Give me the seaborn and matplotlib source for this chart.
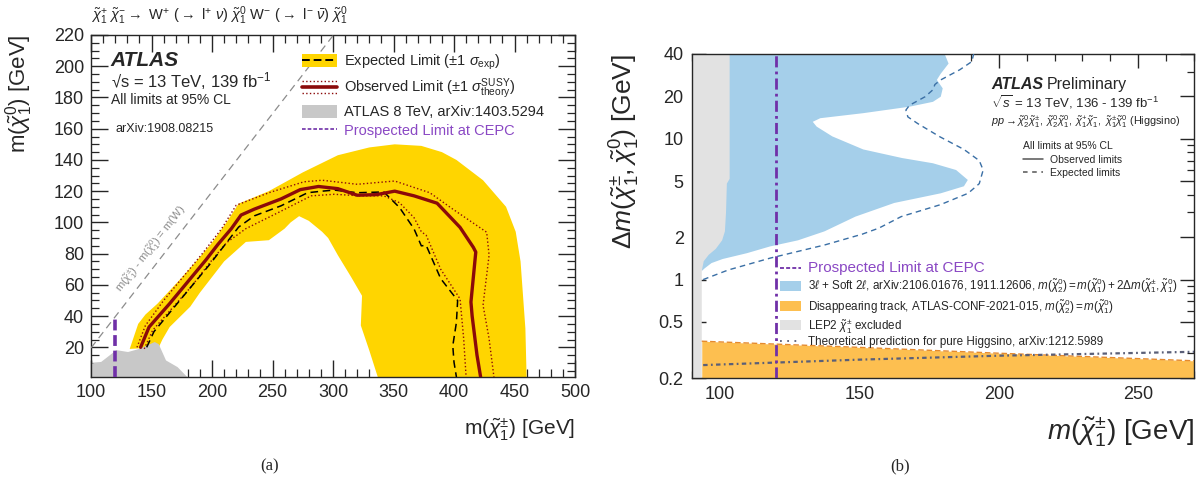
import matplotlib
matplotlib.use("Agg")
import numpy as np
import pandas as pd
import seaborn as sns
import matplotlib.pyplot as plt
from matplotlib.patches import Patch
from matplotlib.lines import Line2D
from matplotlib.legend_handler import HandlerBase, HandlerTuple
from matplotlib.ticker import MultipleLocator, FixedLocator, FixedFormatter, NullFormatter

# ---------------- data: panel (a) ----------------
band_outer_x = [132, 139, 145, 155, 173, 188, 200, 212, 222, 247, 275, 304, 330, 351, 373, 390, 402, 424, 443, 451, 455, 459, 460]
band_outer_y = [19, 35, 41, 48, 63, 76, 87, 100, 112, 120, 132, 143, 148, 150, 149, 145, 140, 127, 110, 94, 75, 32, 1]
band_inner_x = [337, 330, 323, 324, 315, 304, 296, 291, 280, 272, 265, 260, 247, 228, 210, 190, 182, 165, 159, 156]
band_inner_y = [1, 18, 34, 53, 65, 79, 90, 94, 101, 104, 100, 96, 88.6, 87.5, 75, 55, 46, 33, 25, 20]

atlas8_x = [100, 100, 108.5, 121, 130.6, 140, 152.7, 156, 162, 171.6, 179.5]
atlas8_y = [1, 9.6, 10.7, 18.2, 17, 19, 23.4, 22, 11.6, 7.3, 1]

obs_x = [141, 148, 165, 180, 195, 205, 216, 224, 235, 257, 273, 288, 304, 320, 336, 351, 367, 386, 405, 416, 418, 414, 415, 419, 422]
obs_y = [20, 33, 48, 62, 76, 86, 96, 104.7, 108.5, 115, 121, 123, 121.6, 117.4, 117.8, 120, 117, 112.3, 96.8, 84, 81, 49, 40, 15, 1]

obs_up_x = [138, 145, 160, 176, 192, 208, 220, 247, 276, 291, 320, 351, 380, 399, 427, 429, 424, 429, 433]
obs_up_y = [20, 34, 50, 65, 80, 96, 111, 119, 126, 127, 124.4, 126.5, 119, 108.5, 93.7, 79, 47, 25.5, 1]
obs_dn_x = [144, 151, 167, 183, 198, 212, 228, 254, 282, 301, 323, 342, 355, 367, 373, 377, 389, 405, 408, 410]
obs_dn_y = [19, 31, 45, 59, 74, 87, 96, 106, 117, 118, 117, 117, 112.6, 103, 94, 91.8, 70, 51, 25.5, 1]

exp_x = [146, 152, 168, 183, 198, 210, 222, 235, 257, 279, 291, 301, 320, 342, 355, 367, 373, 377, 389, 403, 402, 399, 400, 402]
exp_y = [20, 30, 45, 59, 73, 85, 97, 104.2, 110.6, 119, 120, 120.7, 119, 119.5, 109.5, 95.8, 85, 85.3, 64, 50, 36, 21, 10.5, 1]

m_w = 80.4
w_line_x = np.array([100.0, 310.0])
cepc_mass = 120
cepc_a_range = [1, 40]

# ---------------- data: panel (b) ----------------
lep_x = [90, 103.5, 103.5, 102.5, 102.2, 101.8, 100.8, 98.5, 96, 94.2, 93.5, 93.5, 90]
lep_y = [40, 40, 5.2, 4.8, 3.0, 2.2, 1.9, 1.65, 1.5, 1.35, 1.15, 0.2, 0.2]

blue_x = [93.5, 94.5, 97, 101, 109.7, 118, 128, 137.5, 148.6, 162.5, 179.2, 187.5, 188.9, 184.7, 176.4, 165.3,
          151.4, 140.3, 134.7, 133.3, 136, 151.4, 168, 176.4, 179.2, 179.9, 177.8, 179.2, 182, 180.6, 93.5]
blue_y = [1.15, 1.2, 1.31, 1.4, 1.54, 1.72, 1.9, 2.2, 2.8, 3.5, 4.1, 4.6, 5.1, 6.0, 6.7, 7.3,
          8.4, 10.4, 12.2, 13.2, 14.0, 15.2, 16.9, 18.3, 19.9, 22.8, 26.2, 29, 34.2, 40, 40]

expb_x = [94, 103, 118, 137.5, 151, 157, 165, 179, 189, 193, 194.4, 193, 187.5, 179, 171, 167.4, 166.7, 168,
          173.6, 176.4, 177.1, 179.2, 186, 190.3, 191]
expb_y = [1.0, 1.17, 1.42, 1.76, 2.1, 2.32, 2.8, 3.4, 4.1, 4.8, 6.0, 7.0, 8.4, 10.3, 12.8, 14.3, 16, 17.3,
          19.9, 22.3, 24.3, 26.2, 30.9, 35.3, 40]

dt_x = [93.5, 150, 200, 270]
dt_y = [0.365, 0.33, 0.30, 0.265]
th_x = [94, 150, 200, 270]
th_y = [0.247, 0.27, 0.288, 0.307]

yticks_b = [0.2, 0.5, 1, 2, 5, 10, 20, 40]
yticklabels_b = ["0.2", "0.5", "1", "2", "5", "10", "20", "40"]
yminor_b = [0.3, 0.4, 0.6, 0.7, 0.8, 0.9, 3, 4, 6, 7, 8, 9, 30]

# ---------------- style ----------------
YELLOW = "#FFD500"
GRAY8 = "#C8C8C8"
RED = "#8B0A0A"
PURPLE = "#7030A8"
PURPLE_TXT = "#8A48C4"
BLUE = "#A5CFEA"
BLUE_LINE = "#3A6FA5"
ORANGE = "#FDBF50"
ORANGE_LINE = "#E58A2E"
LEP = "#E2E2E2"
THEORY = "#5A5F78"

sns.set_theme(style="ticks")
plt.rcParams["font.family"] = ["Liberation Sans", "DejaVu Sans"]
plt.rcParams["mathtext.fontset"] = "custom"
plt.rcParams["mathtext.rm"] = "Liberation Sans"
plt.rcParams["mathtext.it"] = "Liberation Sans:italic"
plt.rcParams["mathtext.bf"] = "Liberation Sans:bold"
plt.rcParams["mathtext.sf"] = "Liberation Sans"
plt.rcParams["axes.linewidth"] = 1.0

fig = plt.figure(figsize=(12, 4.9), dpi=100)
axL = fig.add_axes([91 / 1200, 1 - 377 / 490, 484 / 1200, 342 / 490])
axR = fig.add_axes([692 / 1200, 1 - 378 / 490, 502 / 1200, 324 / 490])


def line(ax, x, y, **kw):
    sns.lineplot(x=list(x), y=list(y), sort=False, estimator=None, ax=ax, **kw)


# ================= panel (a) =================
axL.fill(band_outer_x + band_inner_x, band_outer_y + band_inner_y, color=YELLOW, lw=0, zorder=1)
axL.fill(atlas8_x, atlas8_y, color=GRAY8, lw=0, zorder=2)
line(axL, obs_up_x, obs_up_y, color=RED, lw=1.0, ls=":", zorder=3)
line(axL, obs_dn_x, obs_dn_y, color=RED, lw=1.0, ls=":", zorder=3)
line(axL, exp_x, exp_y, color="black", lw=1.1, ls=(0, (5, 3)), zorder=4)
line(axL, obs_x, obs_y, color=RED, lw=2.4, zorder=5)
line(axL, w_line_x, w_line_x - m_w, color="#8C8C8C", lw=0.9, ls=(0, (6, 4)), zorder=3)
line(axL, [cepc_mass, cepc_mass], cepc_a_range, color=PURPLE, lw=2.6, ls=(0, (3, 1.3)), zorder=6)

axL.set_xlim(100, 500)
axL.set_ylim(1, 220)
axL.xaxis.set_major_locator(MultipleLocator(50))
axL.xaxis.set_minor_locator(MultipleLocator(10))
axL.yaxis.set_major_locator(MultipleLocator(20))
axL.yaxis.set_minor_locator(MultipleLocator(5))
axL.tick_params(which="both", direction="in", top=True, right=True, labelsize=13, pad=5)
axL.tick_params(which="major", length=12, width=1.0)
axL.tick_params(which="minor", length=6, width=0.9)
axL.set_xlabel(r"m($\tilde{\chi}_{1}^{\pm}$) [GeV]", fontsize=15, loc="right")
axL.xaxis.set_label_coords(1.0, -0.115)
axL.set_ylabel(r"m($\tilde{\chi}_{1}^{0}$) [GeV]", fontsize=16, loc="top")
axL.yaxis.set_label_coords(-0.115, 1.0)

axL.text(0.0, 1.022,
         r"$\tilde{\chi}_{1}^{+}\ \tilde{\chi}_{1}^{-} \rightarrow$ W$^{+}$ ($\rightarrow$ l$^{+}$ $\nu$) $\tilde{\chi}_{1}^{0}$ W$^{-}$ ($\rightarrow$ l$^{-}$ $\bar{\nu}$) $\tilde{\chi}_{1}^{0}$",
         transform=axL.transAxes, ha="left", va="bottom", fontsize=10.5)
axL.text(116.4, 199.9, "ATLAS", fontsize=15, fontweight="bold", fontstyle="italic", va="baseline")
axL.text(116.4, 186.3, r"√s = 13 TeV, 139 fb$^{\mathregular{-1}}$", fontsize=12, va="baseline")
axL.text(116.4, 175.6, "All limits at 95% CL", fontsize=10, va="baseline")
axL.text(120.5, 158.2, "arXiv:1908.08215", fontsize=9, va="baseline")
axL.text(150, 83, r"m($\tilde{\chi}_{1}^{\pm}$) - m($\tilde{\chi}_{1}^{0}$) = m(W)", fontsize=8,
         color="#8C8C8C", rotation=52, ha="center", va="center", rotation_mode="anchor")


class HandlerObs(HandlerBase):
    def create_artists(self, legend, orig_handle, xdescent, ydescent, width, height, fontsize, trans):
        arts = []
        for frac, ls, lw in [(0.5, "-", 2.6), (0.95, ":", 1.0), (0.05, ":", 1.0)]:
            y = height * frac - ydescent
            arts.append(Line2D([-xdescent, width - xdescent], [y, y], color=RED, ls=ls, lw=lw, transform=trans))
        return arts


obs_handle = Line2D([], [], color=RED)
handles_a = [
    (Patch(facecolor=YELLOW, edgecolor="none"), Line2D([], [], color="black", ls=(0, (4, 2)), lw=1.4)),
    obs_handle,
    Patch(facecolor=GRAY8, edgecolor="none"),
    Line2D([], [], color=PURPLE, ls=(0, (2.2, 1.2)), lw=1.2),
]
labels_a = [
    r"Expected Limit ($\pm$1 $\sigma_{\mathrm{exp}}$)",
    r"Observed Limit ($\pm$1 $\sigma_{\mathrm{theory}}^{\mathrm{SUSY}}$)",
    "ATLAS 8 TeV, arXiv:1403.5294",
    "Prospected Limit at CEPC",
]
legA = axL.legend(handles_a, labels_a, handler_map={obs_handle: HandlerObs(), tuple: HandlerTuple(ndivide=1)},
                  loc="upper left", bbox_to_anchor=(0.435, 0.948), frameon=False, fontsize=10.5,
                  handlelength=2.4, handleheight=1.0, handletextpad=0.5, labelspacing=0.28,
                  borderpad=0, borderaxespad=0)
legA.get_texts()[3].set_color(PURPLE_TXT)

# ================= panel (b) =================
axR.set_yscale("log")
axR.fill(blue_x, blue_y, color=BLUE, lw=0, zorder=1)
axR.fill_between(dt_x, dt_y, yticks_b[0], color=ORANGE, lw=0, zorder=1)
axR.fill(lep_x, lep_y, color=LEP, lw=0, zorder=2)
line(axR, dt_x, dt_y, color=ORANGE_LINE, lw=1.0, ls=(0, (4, 2)), zorder=3)
line(axR, expb_x, expb_y, color=BLUE_LINE, lw=1.0, ls=(0, (4, 3)), zorder=3)
line(axR, th_x, th_y, color=THEORY, lw=1.6, ls=(0, (2, 1.5, 0.8, 1.5)), zorder=4)
line(axR, [cepc_mass, cepc_mass], [yticks_b[0], yticks_b[-1]], color=PURPLE, lw=2.0,
     ls=(0, (4, 1.5, 1, 1.5)), zorder=5)

axR.set_xlim(90, 270)
axR.set_ylim(0.2, 40)
axR.xaxis.set_major_locator(MultipleLocator(50))
axR.xaxis.set_minor_locator(MultipleLocator(10))
axR.yaxis.set_major_locator(FixedLocator(yticks_b))
axR.yaxis.set_major_formatter(FixedFormatter(yticklabels_b))
axR.yaxis.set_minor_locator(FixedLocator(yminor_b))
axR.yaxis.set_minor_formatter(NullFormatter())
axR.tick_params(which="both", direction="in", top=True, right=True, labelsize=13, pad=6)
axR.tick_params(which="major", length=10, width=1.0)
axR.tick_params(which="minor", length=5, width=0.9)
axR.set_xlabel(r"$m(\tilde{\chi}_{1}^{\pm})$ [GeV]", fontsize=20, loc="right")
axR.xaxis.set_label_coords(1.0, -0.115)
axR.set_ylabel(r"$\Delta m(\tilde{\chi}_{1}^{\pm}, \tilde{\chi}_{1}^{0})$ [GeV]", fontsize=19, loc="top")
axR.yaxis.set_label_coords(-0.10, 1.0)

t_atlas = axR.text(197.2, 22.4, "ATLAS", fontsize=11.5, fontweight="bold", fontstyle="italic", va="baseline")
axR.annotate("Preliminary", xy=(1, 0), xycoords=t_atlas, xytext=(3, 0), textcoords="offset points",
             fontsize=11.5, va="bottom", ha="left")
axR.text(197.2, 16.7, r"$\sqrt{s}$ = 13 TeV, 136 - 139 fb$^{-1}$", fontsize=9.5, va="baseline")
axR.text(197.2, 12.6,
         r"$pp \rightarrow \tilde{\chi}^{0}_{2}\tilde{\chi}^{\pm}_{1},\ \tilde{\chi}^{0}_{2}\tilde{\chi}^{0}_{1},\ \tilde{\chi}^{+}_{1}\tilde{\chi}^{-}_{1},\ \tilde{\chi}^{\pm}_{1}\tilde{\chi}^{0}_{1}$ (Higgsino)",
         fontsize=7.8, va="baseline")

legR1 = axR.legend([Line2D([], [], color="#555555", lw=1.1), Line2D([], [], color="#555555", lw=1.1, ls=(0, (3, 3)))],
                   ["Observed limits", "Expected limits"], title="All limits at 95% CL", title_fontsize=7.5,
                   alignment="left", loc="upper left", bbox_to_anchor=(0.66, 0.73), frameon=False, fontsize=7.5,
                   handlelength=1.9, handletextpad=0.7, labelspacing=0.3, borderpad=0, borderaxespad=0)
axR.add_artist(legR1)

handles_b = [
    Line2D([], [], color=PURPLE, lw=1.3, ls=(0, (2.2, 1.2))),
    Patch(facecolor=BLUE, edgecolor="none"),
    Patch(facecolor=ORANGE, edgecolor="none"),
    Patch(facecolor=LEP, edgecolor="none"),
    Line2D([], [], color=THEORY, lw=1.3, ls=(0, (1, 3))),
]
labels_b = [
    "Prospected Limit at CEPC",
    r"3$\ell$ + Soft 2$\ell$, arXiv:2106.01676, 1911.12606, $m(\tilde{\chi}^{0}_{2}) = m(\tilde{\chi}^{0}_{1}) + 2\Delta m(\tilde{\chi}^{\pm}_{1}, \tilde{\chi}^{0}_{1})$",
    r"Disappearing track, ATLAS-CONF-2021-015, $m(\tilde{\chi}^{0}_{2}) = m(\tilde{\chi}^{0}_{1})$",
    r"LEP2 $\tilde{\chi}^{\pm}_{1}$ excluded",
    "Theoretical prediction for pure Higgsino, arXiv:1212.5989",
]
legR2 = axR.legend(handles_b, labels_b, loc="upper left", bbox_to_anchor=(0.175, 0.36), frameon=False,
                   fontsize=8.4, handlelength=1.8, handleheight=0.95, handletextpad=0.6, labelspacing=0.12,
                   borderpad=0, borderaxespad=0)
legR2.get_texts()[0].set_color(PURPLE_TXT)
legR2.get_texts()[0].set_fontsize(11)

fig.text(0.225, 0.04, "(a)", fontsize=12, family=["Liberation Serif", "DejaVu Serif"], ha="center")
fig.text(0.75, 0.04, "(b)", fontsize=12, family=["Liberation Serif", "DejaVu Serif"], ha="center")

fig.savefig("out.png", dpi=100)
